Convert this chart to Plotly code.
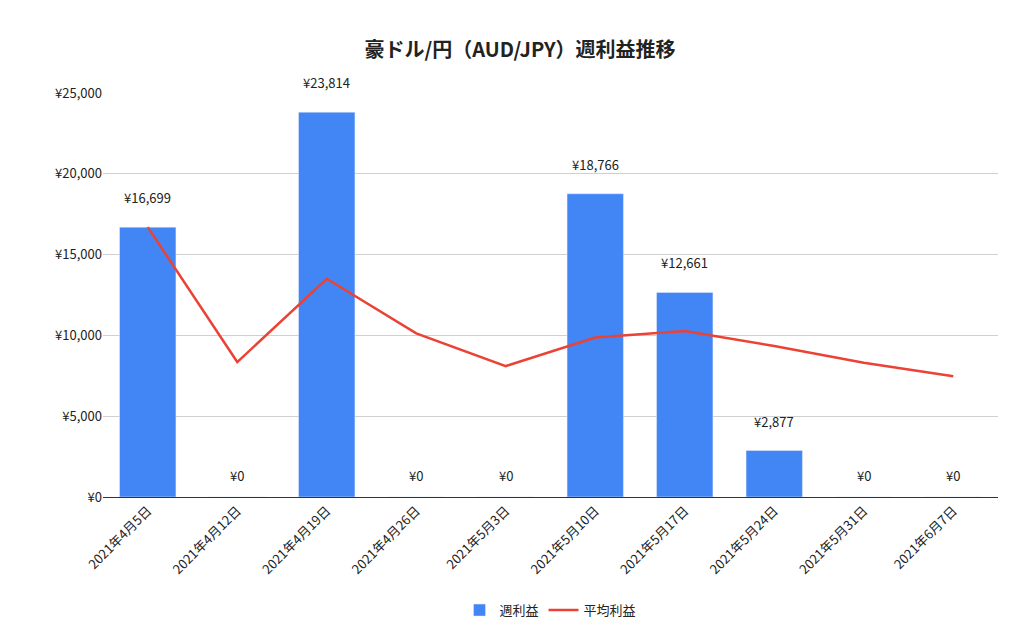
import plotly.graph_objects as go

dates = ["2021年4月5日","2021年4月12日","2021年4月19日","2021年4月26日","2021年5月3日",
         "2021年5月10日","2021年5月17日","2021年5月24日","2021年5月31日","2021年6月7日"]
weekly = [16699, 0, 23814, 0, 0, 18766, 12661, 2877, 0, 0]
average = [16699, 8350, 13504, 10128, 8103, 9872, 10270, 9346, 8308, 7477]
labels = ["¥{:,}".format(v) for v in weekly]

font = "Noto Sans CJK JP"
fig = go.Figure()
fig.add_bar(x=dates, y=weekly, name="週利益", marker_color="#4285F4", width=0.63)
fig.add_scatter(x=dates, y=average, name="平均利益", mode="lines",
                line=dict(color="#EA4335", width=2.5))
for d, v, t in zip(dates, weekly, labels):
    fig.add_annotation(x=d, y=v, text=t, showarrow=False, yanchor="bottom",
                       yshift=18 if v > 0 else 10, font=dict(size=13, color="#222"))
fig.update_layout(
    width=1024, height=642, plot_bgcolor="white", paper_bgcolor="white",
    font=dict(family=font, size=13, color="#222"),
    title=dict(text="<b>豪ドル/円（AUD/JPY）週利益推移</b>", x=0.5, y=0.935, xanchor="center",
               yanchor="middle", font=dict(size=20, color="#222")),
    margin=dict(l=95, r=34, t=85, b=153, autoexpand=False),
    showlegend=True,
    legend=dict(orientation="h", x=0.5, xanchor="center", y=-0.28, yanchor="middle",
                font=dict(size=13)),
    bargap=0.37,
)
fig.update_yaxes(range=[0, 25000], dtick=5000, tickprefix="¥", tickformat=",",
                 gridcolor="#d0d0d0", zeroline=False, showline=False, ticks="",
                 automargin=False, tickfont=dict(size=13))
fig.update_xaxes(tickangle=-45, showline=True, linecolor="#333", linewidth=1, ticks="",
                 automargin=False, tickfont=dict(size=13))
fig.write_html("out.html")
